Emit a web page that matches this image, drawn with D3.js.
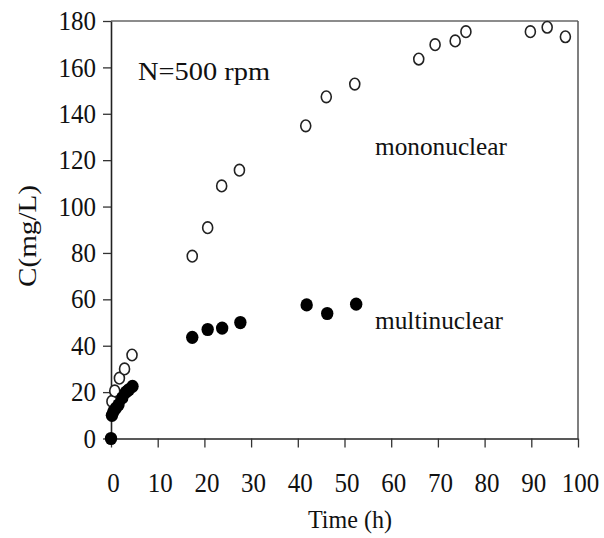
<!DOCTYPE html>
<html>
<head>
<meta charset="utf-8">
<script src="https://cdn.jsdelivr.net/npm/d3@7"></script>
<style>
  html, body { margin: 0; padding: 0; background: #fff; }
  svg { display: block; }
  svg text { font-family: "Liberation Serif", "Times New Roman", Tinos, "DejaVu Serif", serif !important; fill: #111; }
</style>
</head>
<body>
<svg id="chart" width="604" height="538"></svg>
<script>
// ---- data ----
const xTicks = [0, 10, 20, 30, 40, 50, 60, 70, 80, 90, 100];
const yTicks = [0, 20, 40, 60, 80, 100, 120, 140, 160, 180];

// mononuclear (open circles): time (h), C (mg/L)
const monoTime = [0.2, 0.8, 1.8, 2.9, 4.5, 17.4, 20.7, 23.7, 27.5, 41.7, 46.1, 52.2, 65.9, 69.4, 73.7, 76.0, 89.8, 93.4, 97.3];
const monoC    = [16, 20.5, 26, 30, 36, 78.6, 90.9, 108.9, 115.7, 134.8, 147.3, 152.8, 163.6, 169.8, 171.4, 175.4, 175.4, 177.3, 173.2];

// multinuclear (filled circles)
const multiTime = [0, 0.2, 0.5, 1.0, 1.6, 2.4, 3.2, 3.8, 4.6, 17.4, 20.7, 23.8, 27.7, 41.9, 46.3, 52.5];
const multiC    = [0, 10, 11.5, 13, 14.5, 17.5, 20, 21, 22.5, 43.6, 47, 47.6, 50, 57.6, 53.9, 57.9];

const labels = { y: "C(mg/L)", x: "Time (h)", note: "N=500 rpm", mono: "mononuclear", multi: "multinuclear" };

// ---- layout ----
const FONT = '"Liberation Serif", "Times New Roman", Tinos, "DejaVu Serif", serif';
const svg = d3.select("#chart");
const mLeft = 111, mRight = 578, mTop = 21, mBottom = 438.5;

const x = d3.scaleLinear().domain([0, 100]).range([mLeft, mRight]);
const y = d3.scaleLinear().domain([0, 180]).range([mBottom, mTop]);

// frame (top & right)
svg.append("line").attr("x1", mLeft).attr("x2", mRight).attr("y1", mTop).attr("y2", mTop)
  .attr("stroke", "#666").attr("stroke-width", 1.5);
svg.append("line").attr("x1", mRight).attr("x2", mRight).attr("y1", mTop).attr("y2", mBottom)
  .attr("stroke", "#555").attr("stroke-width", 1.5);

// axes
const xAxis = svg.append("g").attr("transform", `translate(0,${mBottom})`)
  .call(d3.axisBottom(x).tickValues(xTicks).tickSize(9).tickPadding(25).tickSizeOuter(0));
const yAxis = svg.append("g").attr("transform", `translate(${mLeft},0)`)
  .call(d3.axisLeft(y).tickValues(yTicks).tickSize(8).tickPadding(7).tickSizeOuter(0));

[xAxis, yAxis].forEach(g => {
  g.attr("font-family", FONT).attr("font-size", 27);
  g.select(".domain").attr("stroke", "#222").attr("stroke-width", 1.6);
  g.selectAll(".tick line").attr("stroke", "#333").attr("stroke-width", 1.3);
  g.selectAll(".tick text")
    .attr("font-family", FONT)
    .attr("font-size", 27).attr("fill", "#111")
    .attr("textLength", d => String(d).length * 12.5)
    .attr("lengthAdjust", "spacingAndGlyphs");
});
xAxis.selectAll(".tick text").attr("dx", 2);

// axis titles
svg.append("text")
  .attr("transform", `translate(36,236) rotate(-90)`)
  .attr("text-anchor", "middle")
  .attr("font-size", 26)
  .attr("textLength", 102).attr("lengthAdjust", "spacingAndGlyphs")
  .text(labels.y);

svg.append("text")
  .attr("x", 350).attr("y", 528)
  .attr("text-anchor", "middle")
  .attr("font-size", 25)
  .attr("textLength", 84).attr("lengthAdjust", "spacingAndGlyphs")
  .text(labels.x);

// annotations
svg.append("text").attr("x", 138).attr("y", 80).attr("font-size", 25)
  .attr("textLength", 132).attr("lengthAdjust", "spacingAndGlyphs").text(labels.note);
svg.append("text").attr("x", 375).attr("y", 155).attr("font-size", 25)
  .attr("textLength", 132).attr("lengthAdjust", "spacingAndGlyphs").text(labels.mono);
svg.append("text").attr("x", 375).attr("y", 329).attr("font-size", 25)
  .attr("textLength", 128).attr("lengthAdjust", "spacingAndGlyphs").text(labels.multi);

// points
const mono = monoTime.map((t, i) => ({ t, c: monoC[i] }));
const multi = multiTime.map((t, i) => ({ t, c: multiC[i] }));

svg.append("g").selectAll("ellipse").data(mono).join("ellipse")
  .attr("cx", d => x(d.t)).attr("cy", d => y(d.c))
  .attr("rx", 5).attr("ry", 5.8)
  .attr("fill", "#fff").attr("stroke", "#222").attr("stroke-width", 1.6);

svg.append("g").selectAll("ellipse").data(multi).join("ellipse")
  .attr("cx", d => x(d.t)).attr("cy", d => y(d.c))
  .attr("rx", 6.2).attr("ry", 6.6)
  .attr("fill", "#000");
</script>
</body>
</html>
